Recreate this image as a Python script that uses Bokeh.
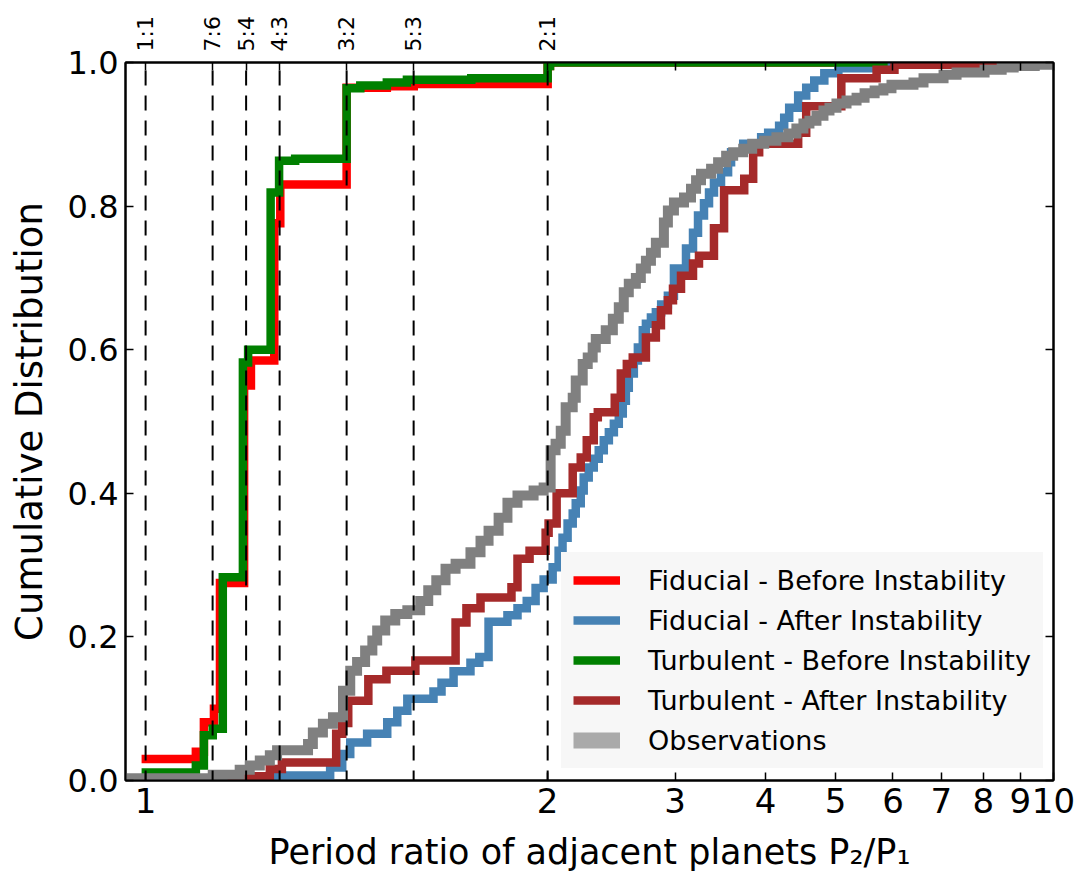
import numpy as np
from bokeh.plotting import figure
from bokeh.models import Range1d, LinearAxis, FixedTicker, Legend, LegendItem
from bokeh.embed import file_html
from bokeh.resources import INLINE

# ---------------------------------------------------------------------------
# Cumulative distributions of adjacent-planet period ratios P2/P1.
# Each series: period ratio where the CDF steps, and CDF value after the step.
# ---------------------------------------------------------------------------
fid_before_ratio = [0.99, 1.125, 1.145, 1.17, 1.185, 1.245, 1.262, 1.32, 1.335,
                    1.50, 1.60, 1.667, 2.0, 2.015, 5.9]
fid_before_cdf = [0.030, 0.040, 0.081, 0.100, 0.275, 0.550, 0.585, 0.776, 0.830,
                  0.965, 0.967, 0.970, 0.995, 1.0, 1.0]

turb_before_ratio = [0.99, 1.125, 1.145, 1.167, 1.192, 1.242, 1.255, 1.311, 1.332,
                     1.372, 1.50, 1.534, 1.60, 1.65, 1.81, 2.0, 2.015, 5.9]
turb_before_cdf = [0.011, 0.021, 0.063, 0.072, 0.283, 0.582, 0.600, 0.819, 0.863,
                   0.866, 0.964, 0.968, 0.972, 0.976, 0.978, 0.995, 1.0, 1.0]

fid_after_ratio = [1.252, 1.317, 1.459, 1.489, 1.509, 1.551, 1.601, 1.626, 1.651,
                   1.716, 1.736, 1.766, 1.808, 1.830, 1.853, 1.900, 1.925, 1.948,
                   1.970, 1.990, 2.032, 2.071, 2.097, 2.131, 2.166, 2.187, 2.222,
                   2.243, 2.279, 2.316, 2.353, 2.391, 2.430, 2.469, 2.508, 2.540,
                   2.565, 2.589, 2.631, 2.665, 2.707, 2.734, 2.778, 2.822, 2.870,
                   2.932, 2.989, 3.106, 3.176, 3.227, 3.289, 3.342, 3.395, 3.472,
                   3.551, 3.585, 3.726, 3.945, 4.034, 4.177, 4.245, 4.313, 4.438,
                   4.553, 4.671, 4.823, 5.043, 5.570, 6.0]
fid_after_cdf = [0.004, 0.007, 0.018, 0.037, 0.053, 0.065, 0.081, 0.097, 0.114,
                 0.124, 0.136, 0.152, 0.164, 0.172, 0.221, 0.230, 0.240, 0.250,
                 0.268, 0.280, 0.297, 0.320, 0.338, 0.358, 0.372, 0.386, 0.404,
                 0.422, 0.436, 0.448, 0.460, 0.474, 0.485, 0.497, 0.511, 0.529,
                 0.547, 0.567, 0.585, 0.603, 0.627, 0.636, 0.645, 0.652, 0.663,
                 0.675, 0.713, 0.741, 0.763, 0.787, 0.804, 0.819, 0.833, 0.847,
                 0.861, 0.875, 0.887, 0.896, 0.902, 0.912, 0.923, 0.937, 0.954,
                 0.965, 0.975, 0.985, 0.992, 1.0, 1.0]

turb_after_ratio = [1.204, 1.252, 1.309, 1.339, 1.474, 1.489, 1.504, 1.554, 1.599,
                    1.671, 1.771, 1.798, 1.833, 1.910, 1.925, 1.955, 1.995, 2.006,
                    2.058, 2.166, 2.222, 2.265, 2.316, 2.346, 2.476, 2.524, 2.573,
                    2.622, 2.734, 2.822, 2.868, 2.932, 2.980, 3.057, 3.176, 3.237,
                    3.395, 3.506, 3.738, 3.846, 3.920, 4.438, 4.553, 5.091, 5.696,
                    6.029, 8.616]
turb_after_cdf = [0.003, 0.006, 0.016, 0.025, 0.065, 0.080, 0.111, 0.141, 0.153,
                  0.167, 0.220, 0.240, 0.255, 0.269, 0.309, 0.320, 0.345, 0.358,
                  0.400, 0.436, 0.450, 0.474, 0.506, 0.513, 0.533, 0.567, 0.580,
                  0.589, 0.617, 0.634, 0.655, 0.669, 0.685, 0.703, 0.720, 0.731,
                  0.769, 0.822, 0.838, 0.875, 0.887, 0.902, 0.939, 0.978, 0.990,
                  0.997, 1.0]

obs_ratio = [0.95, 1.167, 1.234, 1.259, 1.284, 1.309, 1.327, 1.404, 1.416, 1.441,
             1.466, 1.491, 1.509, 1.526, 1.546, 1.564, 1.576, 1.596, 1.621, 1.651,
             1.683, 1.703, 1.723, 1.746, 1.771, 1.808, 1.833, 1.853, 1.878, 1.900,
             1.925, 1.965, 1.990, 2.019, 2.051, 2.085, 2.118, 2.166, 2.187, 2.236,
             2.272, 2.308, 2.331, 2.406, 2.461, 2.508, 2.548, 2.589, 2.648, 2.690,
             2.734, 2.778, 2.822, 2.895, 2.932, 2.989, 3.086, 3.156, 3.207, 3.258,
             3.364, 3.440, 3.529, 3.609, 3.726, 3.834, 3.984, 4.141, 4.302, 4.413,
             4.513, 4.600, 4.704, 4.810, 4.903, 5.013, 5.176, 5.344, 5.482, 5.660,
             5.821, 5.972, 6.405, 6.613, 7.048, 7.346, 8.031, 8.480, 8.810, 9.421,
             9.947]
obs_cdf = [0.003, 0.008, 0.015, 0.021, 0.028, 0.035, 0.042, 0.051, 0.067, 0.079,
           0.088, 0.125, 0.153, 0.165, 0.181, 0.195, 0.209, 0.223, 0.232, 0.237,
           0.250, 0.265, 0.279, 0.295, 0.302, 0.318, 0.334, 0.348, 0.366, 0.387,
           0.397, 0.404, 0.408, 0.460, 0.469, 0.487, 0.520, 0.533, 0.557, 0.580,
           0.589, 0.603, 0.615, 0.627, 0.643, 0.659, 0.680, 0.692, 0.700, 0.713,
           0.724, 0.735, 0.749, 0.777, 0.794, 0.805, 0.812, 0.824, 0.836, 0.845,
           0.852, 0.861, 0.870, 0.875, 0.880, 0.887, 0.891, 0.896, 0.901, 0.908,
           0.915, 0.919, 0.926, 0.933, 0.937, 0.943, 0.947, 0.951, 0.957, 0.961,
           0.964, 0.969, 0.972, 0.978, 0.983, 0.986, 0.990, 0.993, 0.995, 0.997,
           1.0]

# Mean-motion resonances marked with dashed lines
resonance_ratio = [1.0, 7 / 6, 5 / 4, 4 / 3, 3 / 2, 5 / 3, 2.0]
resonance_labels = ["1:1", "7:6", "5:4", "4:3", "3:2", "5:3", "2:1"]

x_tick_values = [1, 2, 3, 4, 5, 6, 7, 8, 9, 10]
x_tick_labels = ["1", "2", "3", "4", "5", "6", "7", "8", "9", "10"]
y_tick_values = [0.0, 0.2, 0.4, 0.6, 0.8, 1.0]
y_tick_labels = ["0.0", "0.2", "0.4", "0.6", "0.8", "1.0"]

# ---------------------------------------------------------------------------
# Symmetric-log x scale: linear below 2, logarithmic above (base 10, linscale 1)
# ---------------------------------------------------------------------------
LINTHRESH = 2.0
LINSCALE_ADJ = 1.0 / (1.0 - 1.0 / 10.0)


def symlog(p):
    p = np.asarray(p, dtype=float)
    logpart = LINTHRESH * (LINSCALE_ADJ + np.log10(np.maximum(p, 1e-12) / LINTHRESH))
    return np.where(p <= LINTHRESH, p * LINSCALE_ADJ, logpart)


FONT = "DejaVu Sans"

p = figure(width=1090, height=892, output_backend="svg", toolbar_location=None,
           x_range=Range1d(float(symlog(0.95)), float(symlog(10.0))),
           y_range=Range1d(0.0, 1.0),
           x_axis_location=None, y_axis_location=None,
           min_border_left=125, min_border_right=37,
           min_border_top=62, min_border_bottom=112)
p.grid.grid_line_color = None
p.outline_line_color = "black"
p.outline_line_width = 2
p.background_fill_color = "white"
p.border_fill_color = "white"

x_ticks = [float(v) for v in symlog(x_tick_values)]
y_ticks = [float(v) for v in y_tick_values]


def style_axis(ax):
    ax.axis_line_width = 2
    ax.axis_line_color = "black"
    ax.major_tick_in = 8
    ax.major_tick_out = 0
    ax.major_tick_line_width = 1.5
    ax.minor_tick_in = 0
    ax.minor_tick_out = 0
    ax.major_label_text_font = FONT
    ax.axis_label_text_font = FONT
    ax.axis_label_text_font_style = "normal"
    ax.major_label_text_color = "black"
    ax.axis_label_text_color = "black"


bottom = LinearAxis(ticker=FixedTicker(ticks=x_ticks),
                    major_label_overrides={v: s for v, s in zip(x_ticks, x_tick_labels)},
                    axis_label="Period ratio of adjacent planets P\u2082/P\u2081")
style_axis(bottom)
bottom.major_label_text_font_size = "34px"
bottom.major_label_standoff = 7
bottom.axis_label_text_font_size = "35px"
bottom.axis_label_standoff = 16
p.add_layout(bottom, "below")

left = LinearAxis(ticker=FixedTicker(ticks=y_ticks),
                  major_label_overrides={v: s for v, s in zip(y_ticks, y_tick_labels)},
                  axis_label="Cumulative Distribution")
style_axis(left)
left.major_label_text_font_size = "32px"
left.major_label_standoff = 7
left.axis_label_text_font_size = "37px"
left.axis_label_standoff = 14
p.add_layout(left, "left")

right = LinearAxis(ticker=FixedTicker(ticks=y_ticks),
                   major_label_overrides={v: "" for v in y_ticks})
style_axis(right)
p.add_layout(right, "right")

# Top axis carries the resonance names plus mirrored integer ticks
res_x = [float(v) for v in symlog(resonance_ratio)]
top_overrides = {v: "" for v in x_ticks}
top_overrides.update({v: s for v, s in zip(res_x, resonance_labels)})
top_ticks = sorted(set(x_ticks) | set(res_x))
top = LinearAxis(ticker=FixedTicker(ticks=top_ticks), major_label_overrides=top_overrides)
style_axis(top)
top.major_label_text_font_size = "22px"
top.major_label_orientation = "vertical"
top.major_label_standoff = 11
p.add_layout(top, "above")

# ---------------------------------------------------------------------------
# CDF step curves
# ---------------------------------------------------------------------------
series = [
    ("Fiducial - Before Instability", fid_before_ratio, fid_before_cdf, "#ff0000", 8.5),
    ("Fiducial - After Instability", fid_after_ratio, fid_after_cdf, "#4682b4", 8.5),
    ("Turbulent - Before Instability", turb_before_ratio, turb_before_cdf, "#008000", 8.5),
    ("Turbulent - After Instability", turb_after_ratio, turb_after_cdf, "#a52a2a", 8.5),
]
items = []
for name, ratio, cdf, color, lw in series:
    r = p.step(x=symlog(ratio), y=np.asarray(cdf), mode="after", line_color=color,
               line_width=lw, line_join="miter", line_cap="butt")
    items.append(LegendItem(label=name, renderers=[r]))

p.step(x=symlog(obs_ratio), y=np.asarray(obs_cdf), mode="after", line_color="#808080",
       line_width=10, line_join="miter", line_cap="butt")
# legend swatch for the observations (wider, lighter band); holds no drawable point
obs_key = p.line(x=[np.nan], y=[np.nan], line_color="#aaaaaa", line_width=16)
items.append(LegendItem(label="Observations", renderers=[obs_key]))

# Dashed resonance markers
n_res = len(res_x)
p.segment(x0=res_x, y0=[1.0] * n_res, x1=res_x, y1=[0.0] * n_res,
          line_color="black", line_width=2, line_dash="15 10", line_dash_offset=17)

legend = Legend(items=items, location=(436, 12))
legend.label_text_font = FONT
legend.label_text_font_size = "27px"
legend.label_text_color = "black"
legend.label_height = 32
legend.glyph_height = 32
legend.glyph_width = 47
legend.label_standoff = 28
legend.spacing = 8
legend.padding = 12
legend.margin = 0
legend.background_fill_color = "#f7f7f7"
legend.background_fill_alpha = 1.0
legend.border_line_alpha = 0
p.add_layout(legend)

open("out.html", "w").write(file_html(p, INLINE))
